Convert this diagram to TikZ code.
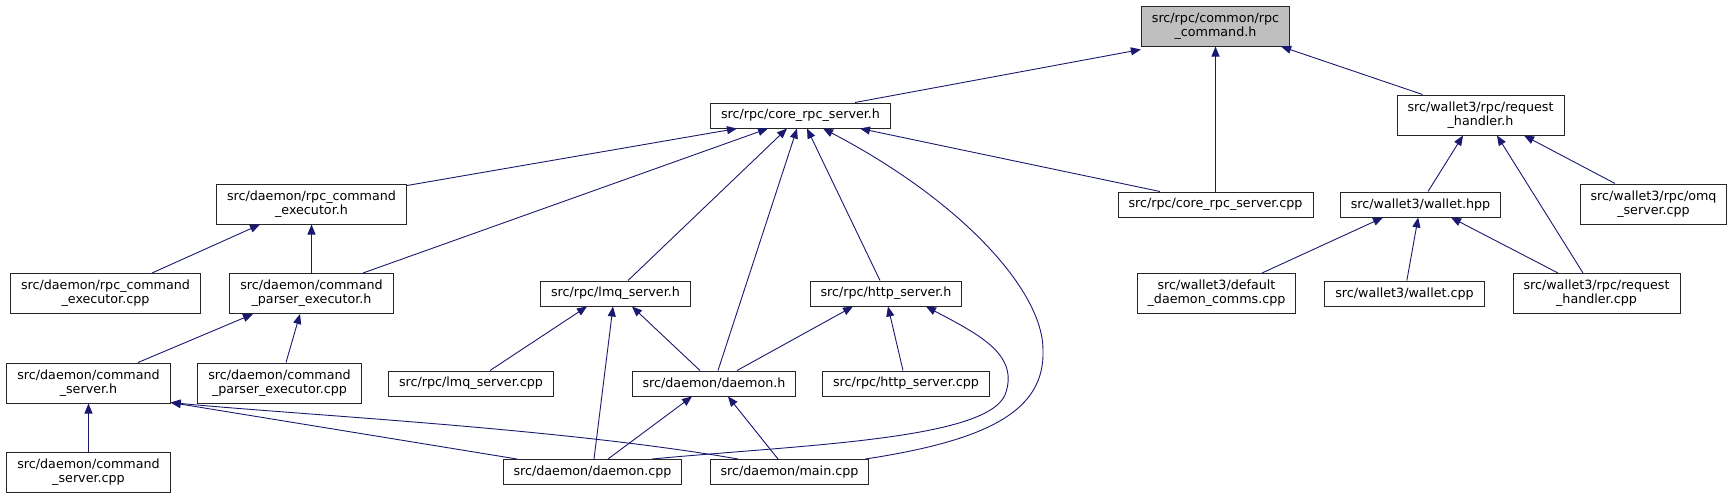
\documentclass[tikz,border=0pt]{standalone}
\usepackage{fontspec}
\setmainfont{DejaVu Sans}
\usetikzlibrary{arrows.meta}
\definecolor{edgeblue}{HTML}{191970}
\definecolor{rootgray}{HTML}{BFBFBF}

\begin{document}
\begin{tikzpicture}[
  x=1pt, y=-1pt,
  >={Triangle[length=10pt,width=8pt]},
  box/.style={draw=black!85, line width=1pt, inner xsep=10.5pt, inner ysep=0pt, minimum height=25pt, align=center, font=\fontsize{12.7}{14}\selectfont},
  tall/.style={box, minimum height=40pt},
  edge/.style={->, draw=edgeblue, line width=0.9pt}
]
  \useasboundingbox (0,0) rectangle (1735,499);

  \node[tall, fill=rootgray] (cmd) at (1215.5,26) {src/rpc/common/rpc\\\_command.h};
  \node[box] (core) at (800.5,115.5) {src/rpc/core\_rpc\_server.h};
  \node[tall] (reqh) at (1480.5,115) {src/wallet3/rpc/request\\\_handler.h};

  \node[tall] (rceh) at (311.5,204) {src/daemon/rpc\_command\\\_executor.h};
  \node[box] (corecpp) at (1215.5,204.5) {src/rpc/core\_rpc\_server.cpp};
  \node[box] (whpp) at (1420.5,204.5) {src/wallet3/wallet.hpp};
  \node[tall] (omq) at (1653.5,204) {src/wallet3/rpc/omq\\\_server.cpp};

  \node[tall] (rcecpp) at (105.5,293.5) {src/daemon/rpc\_command\\\_executor.cpp};
  \node[tall] (cpeh) at (311.5,293.5) {src/daemon/command\\\_parser\_executor.h};
  \node[box] (lmqh) at (615.5,293.5) {src/rpc/lmq\_server.h};
  \node[box] (httph) at (886,293.5) {src/rpc/http\_server.h};
  \node[tall] (ddc) at (1216.5,293.5) {src/wallet3/default\\\_daemon\_comms.cpp};
  \node[box] (wcpp) at (1404.5,293.5) {src/wallet3/wallet.cpp};
  \node[tall] (reqcpp) at (1596.5,293.5) {src/wallet3/rpc/request\\\_handler.cpp};

  \node[tall] (csh) at (88.5,383) {src/daemon/command\\\_server.h};
  \node[tall] (cpecpp) at (279.5,383) {src/daemon/command\\\_parser\_executor.cpp};
  \node[box] (lmqcpp) at (471,383.5) {src/rpc/lmq\_server.cpp};
  \node[box] (dh) at (714,383.5) {src/daemon/daemon.h};
  \node[box] (httpcpp) at (906,383.5) {src/rpc/http\_server.cpp};

  \node[tall] (cscpp) at (88.5,472) {src/daemon/command\\\_server.cpp};
  \node[box] (dcpp) at (592.5,472) {src/daemon/daemon.cpp};
  \node[box] (mcpp) at (789.5,472) {src/daemon/main.cpp};

  % rpc_command.h
  \draw[edge] ([xshift=54.5pt]core.north) -- ([yshift=-3pt]cmd.south west);
  \draw[edge] (corecpp) -- (cmd);
  \draw[edge] ([xshift=-58pt]reqh.north) -- ([xshift=-9pt]cmd.south east);

  % core_rpc_server.h
  \draw[edge] ([yshift=-2pt]rceh.north east) -- ([xshift=-63.5pt]core.south);
  \draw[edge] ([xshift=51.5pt]cpeh.north) -- ([xshift=-32.5pt]core.south);
  \draw[edge] ([xshift=12.5pt]lmqh.north) -- ([xshift=-13.5pt]core.south);
  \draw[edge] ([xshift=4pt]dh.north) -- ([xshift=-3.5pt]core.south);
  \draw[edge] ([xshift=-6pt]httph.north) -- ([xshift=6.5pt]core.south);
  \draw[edge] ([xshift=-55.5pt]corecpp.north) -- ([xshift=59.5pt]core.south);
  \draw[edge] ([xshift=-4pt]mcpp.north east) .. controls (990,440) and (1045,410) .. (1043,350)
    .. controls (1043,290) and (960,200) .. ([xshift=22.5pt]core.south);

  % wallet3
  \draw[edge] ([xshift=7.5pt]whpp.north) -- ([xshift=-17.5pt]reqh.south);
  \draw[edge] ([xshift=-13.5pt]reqcpp.north) -- ([xshift=16.5pt]reqh.south);
  \draw[edge] ([xshift=-38.5pt]omq.north) -- ([xshift=43.5pt]reqh.south);
  \draw[edge] ([xshift=45.5pt]ddc.north) -- ([xshift=-37.5pt]whpp.south);
  \draw[edge] (wcpp) -- (whpp);
  \draw[edge] ([xshift=-38.5pt]reqcpp.north) -- ([xshift=30.5pt]whpp.south);

  % daemon
  \draw[edge] ([xshift=46.5pt]rcecpp.north) -- ([xshift=-51.5pt]rceh.south);
  \draw[edge] (cpeh) -- (rceh);
  \draw[edge] ([xshift=49.5pt]csh.north) -- ([xshift=-58.5pt]cpeh.south);
  \draw[edge] ([xshift=6.5pt]cpecpp.north) -- ([xshift=-11.5pt]cpeh.south);
  \draw[edge] (cscpp) -- (csh);
  \draw[edge] ([xshift=-75.5pt]dcpp.north) -- ([yshift=1pt]csh.south east);
  \draw[edge] ([xshift=-51.5pt]mcpp.north) .. controls (560,428) and (300,415) .. ([yshift=1pt]csh.south east);

  % lmq / http / daemon.h
  \draw[edge] ([xshift=19pt]lmqcpp.north) -- ([xshift=-28.5pt]lmqh.south);
  \draw[edge] ([xshift=1.5pt]dcpp.north) -- ([xshift=-2.5pt]lmqh.south);
  \draw[edge] ([xshift=-14pt]dh.north) -- ([xshift=16.5pt]lmqh.south);
  \draw[edge] ([xshift=23pt]dh.north) -- ([xshift=-33pt]httph.south);
  \draw[edge] ([xshift=-3pt]httpcpp.north) -- ([xshift=2pt]httph.south);
  \draw[edge] ([xshift=15.5pt]dcpp.north) -- ([xshift=-22pt]dh.south);
  \draw[edge] ([xshift=-11.5pt]mcpp.north) -- ([xshift=14pt]dh.south);
  \draw[edge] ([xshift=59.5pt]dcpp.north) .. controls (800,445) and (985,440) .. (1005,395)
    .. controls (1020,355) and (980,335) .. ([xshift=40pt]httph.south);
\end{tikzpicture}
\end{document}
